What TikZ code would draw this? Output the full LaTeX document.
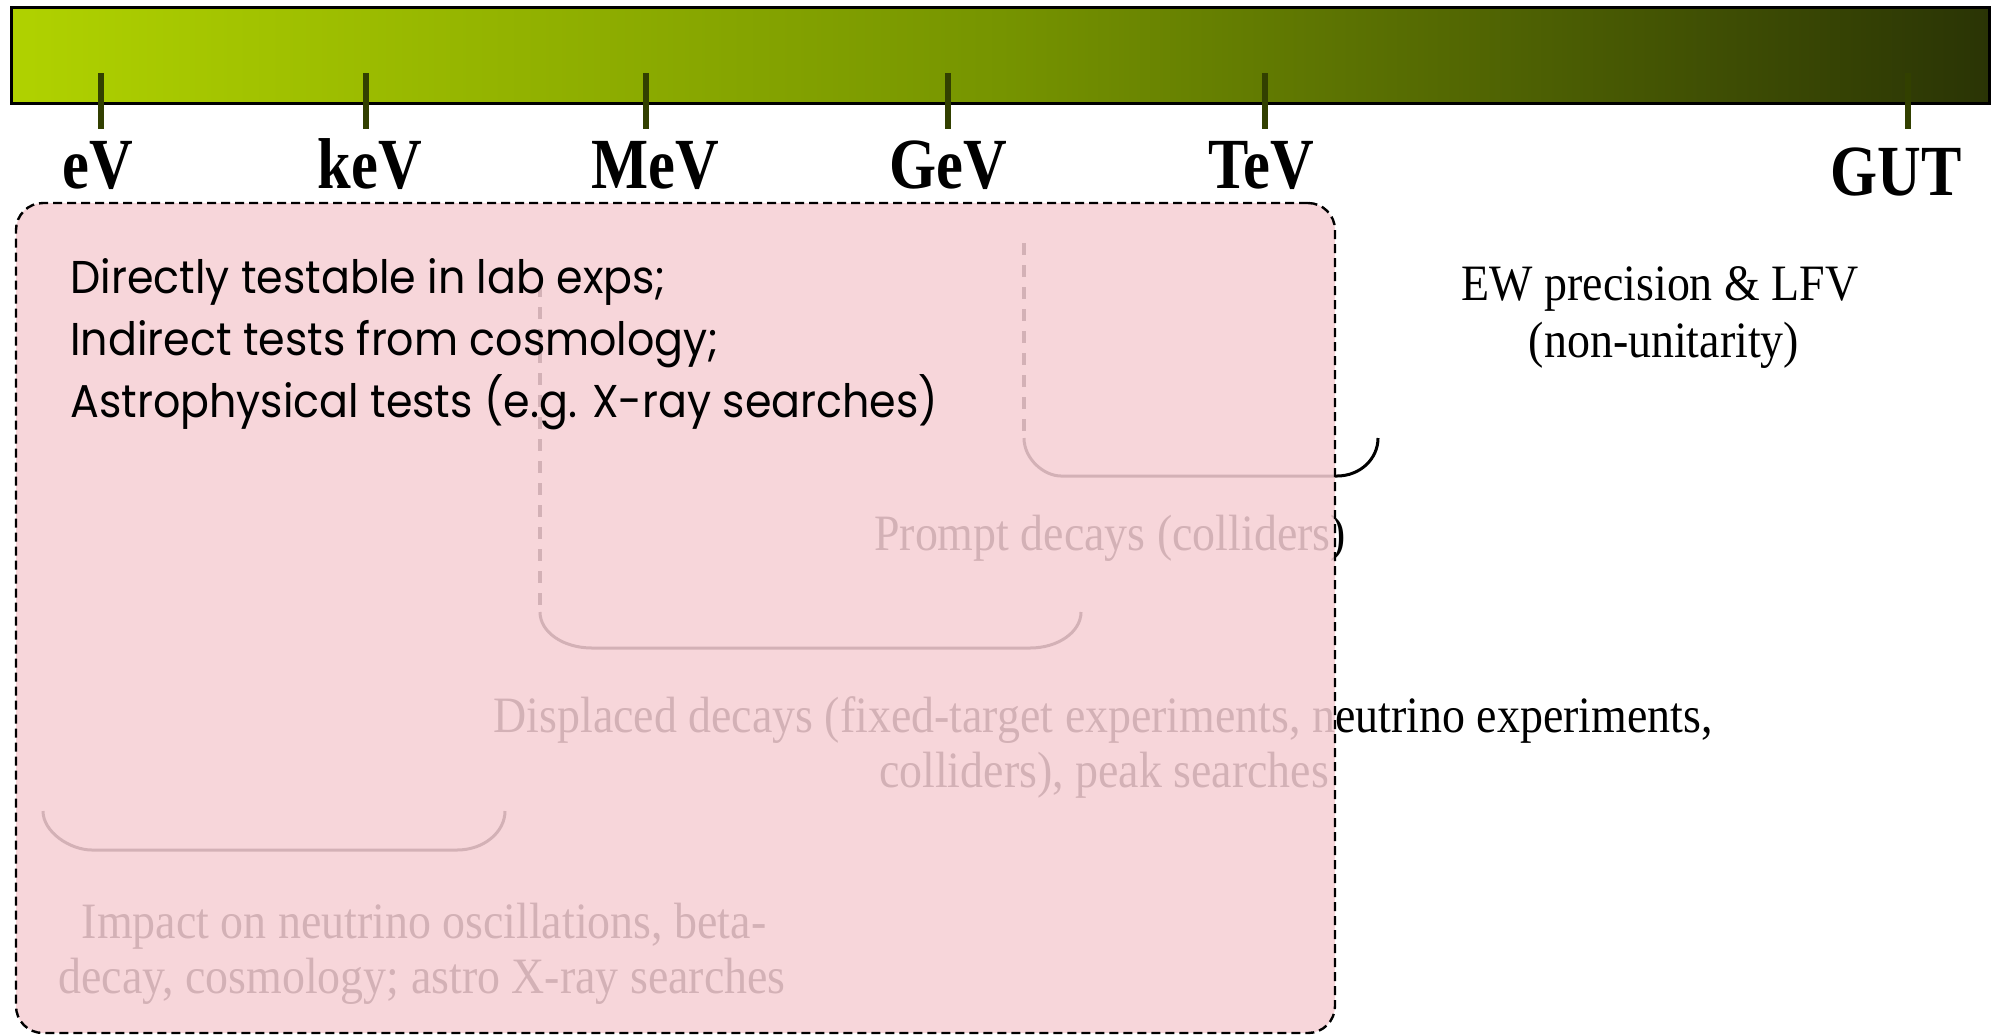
\documentclass[tikz,border=0pt]{standalone}
\usepackage{fontspec}
\newfontfamily\labelfont[FakeStretch=0.84]{Liberation Serif}
\newfontfamily\noteserif[FakeStretch=0.90]{Liberation Serif}
\newfontfamily\handfont[FakeStretch=0.93]{Poppins}
\definecolor{barL}{RGB}{176,210,0}
\definecolor{barM}{RGB}{118,148,0}
\definecolor{barR}{RGB}{42,52,5}
\definecolor{tickc}{RGB}{50,64,0}
\definecolor{pinkc}{RGB}{246,207,212}
\begin{document}
\begin{tikzpicture}[x=0.5pt,y=-0.5pt,
  scalelabel/.style={font=\labelfont\bfseries\fontsize{36}{40}\selectfont, anchor=base, inner sep=0pt},
  note/.style={font=\noteserif\fontsize{25.5}{30}\selectfont, anchor=base, inner sep=0pt},
  hand/.style={font=\handfont\fontsize{23}{28}\selectfont, anchor=base west, inner sep=0pt},
  tickmark/.style={draw=tickc, line width=2.6pt},
  bracket/.style={line width=1.5pt},
  dashbracket/.style={line width=2pt, dash pattern=on 6pt off 5pt}]
\useasboundingbox (0,0) rectangle (2005,1035);

% energy bar
\node (bar) [draw, line width=1.5pt, left color=barL, right color=barR, middle color=barM,
  minimum width=989pt, minimum height=48pt, inner sep=0pt] at (1000,55) {};

% ticks
\foreach \nm/\x in {ev/101, kev/366, mev/646, gev/948, tev/1265, gut/1908}{
  \coordinate (t\nm a) at (\x,73);
  \coordinate (t\nm b) at (\x,129);
  \draw[tickmark] (t\nm a) -- (t\nm b);
}

% scale labels
\node (lev)  [scalelabel] at (98,188)   {eV};
\node (lkev) [scalelabel] at (370,188)  {keV};
\node (lmev) [scalelabel] at (655,188)  {MeV};
\node (lgev) [scalelabel] at (948,188)  {GeV};
\node (ltev) [scalelabel] at (1261,188) {TeV};
\node (lgut) [scalelabel] at (1896,195) {GUT};

% right-hand notes
\node (ew1) [note] at (1660,300) {EW precision \& LFV};
\node (ew2) [note] at (1664,357) {(non-unitarity)};
\node (pr)  [note] at (1110,550) {Prompt decays (colliders)};
\node (dp1) [note] at (1103,732) {Displaced decays (fixed-target experiments, neutrino experiments,};
\node (dp2) [note] at (1104,787) {colliders), peak searches};
\node (im1) [note] at (424,938)  {Impact on neutrino oscillations, beta-};
\node (im2) [note] at (422,993)  {decay, cosmology; astro X-ray searches};

% brackets
\draw[dashbracket] (1024,243) -- (1024,438);
\draw[bracket] (1024,438) .. controls (1024,459) and (1044,476) .. (1061,476) -- (1337,476)
  .. controls (1360,476) and (1378,459) .. (1378,438);
\draw[dashbracket] (540,285) -- (540,612);
\draw[bracket] (540,612) .. controls (540,632) and (563,648) .. (592,648) -- (1030,648)
  .. controls (1058,648) and (1081,632) .. (1081,612);
\draw[bracket] (43,811) .. controls (43,832) and (70,850) .. (92,850) -- (457,850)
  .. controls (484,850) and (505,832) .. (505,811);

% translucent panel
\node (panel) [fill=pinkc, fill opacity=0.86, draw=black, line width=1.2pt,
  dash pattern=on 4.5pt off 2.5pt, rounded corners=13.5pt,
  minimum width=659.5pt, minimum height=415pt, inner sep=0pt] at (675.5,618) {};

% panel text
\node (h1) [hand] at (70,293) {Directly testable in lab exps;};
\node (h2) [hand] at (70,355) {Indirect tests from cosmology;};
\node (h3) [hand] at (70,417) {Astrophysical tests (e.g. X-ray searches)};
\end{tikzpicture}
\end{document}
